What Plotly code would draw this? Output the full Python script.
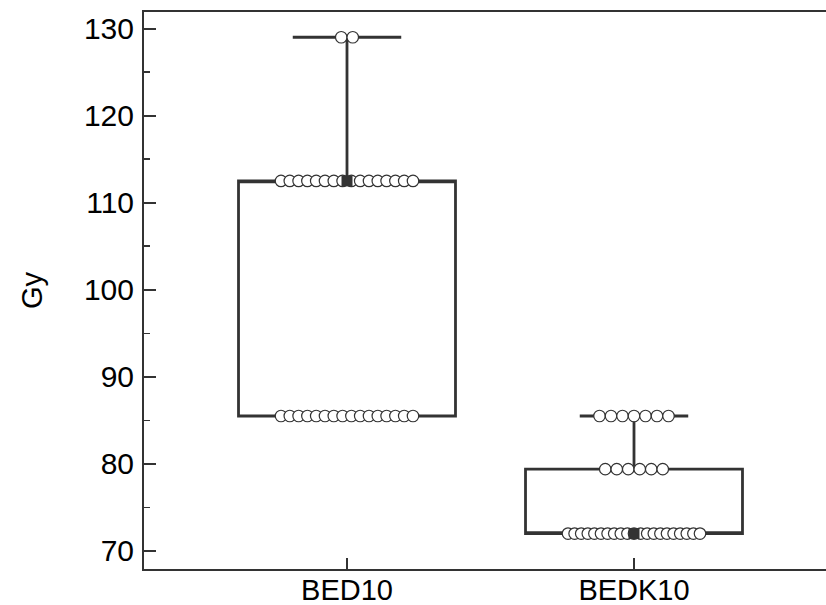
import plotly.graph_objects as go
from collections import Counter

# ---- data ----
categories = ["BED10", "BEDK10"]
bed10 = [129, 129,
         112.5, 112.5, 112.5, 112.5, 112.5, 112.5, 112.5, 112.5,
         112.5, 112.5, 112.5, 112.5, 112.5, 112.5, 112.5, 112.5,
         85.5, 85.5, 85.5, 85.5, 85.5, 85.5, 85.5, 85.5,
         85.5, 85.5, 85.5, 85.5, 85.5, 85.5, 85.5, 85.5]
bedk10 = [85.5, 85.5, 85.5, 85.5, 85.5, 85.5, 85.5,
          79.4, 79.4, 79.4, 79.4, 79.4, 79.4,
          72, 72, 72, 72, 72, 72, 72, 72, 72, 72, 72,
          72, 72, 72, 72, 72, 72, 72, 72, 72, 72]
# box statistics (q1, median, q3, lower whisker, upper whisker)
q1 = [85.5, 72]
median = [112.5, 72]
q3 = [112.5, 79.4]
lowerfence = [85.5, 72]
upperfence = [129, 85.5]
y_ticks = [70, 80, 90, 100, 110, 120, 130]

series = [bed10, bedk10]

LINE = "#333333"
FONT = "Arial, Liberation Sans, sans-serif"
PX_PER_UNIT = 287.0
DOT = 11.5
STEP = 11.5 / PX_PER_UNIT
MAXSPAN = 132 / PX_PER_UNIT


def swarm(values, center):
    xs, ys = [], []
    counts = Counter(values)
    for v, n in counts.items():
        step = STEP if n < 2 else min(STEP, MAXSPAN / (n - 1))
        for i in range(n):
            xs.append(center + (i - (n - 1) / 2) * step)
            ys.append(v)
    return xs, ys


fig = go.Figure()

for i, cat in enumerate(categories):
    fig.add_trace(go.Box(
        x=[i], q1=[q1[i]], median=[median[i]], q3=[q3[i]],
        lowerfence=[lowerfence[i]], upperfence=[upperfence[i]],
        width=0.756, whiskerwidth=0.5,
        fillcolor="rgba(0,0,0,0)",
        line=dict(color=LINE, width=2.8),
        boxpoints=False, hoverinfo="skip", showlegend=False,
    ))

for i, vals in enumerate(series):
    xs, ys = swarm(vals, i)
    fig.add_trace(go.Scatter(
        x=xs, y=ys, mode="markers",
        marker=dict(symbol="circle", size=DOT, color="white",
                    line=dict(color=LINE, width=1.2)),
        showlegend=False, hoverinfo="skip",
    ))

fig.add_trace(go.Scatter(
    x=list(range(len(categories))), y=median, mode="markers",
    marker=dict(symbol="square", size=11, color=LINE,
                line=dict(color=LINE, width=0)),
    showlegend=False, hoverinfo="skip",
))

fig.update_layout(
    width=826, height=605,
    margin=dict(l=144, r=0, t=12, b=36),
    paper_bgcolor="white", plot_bgcolor="white",
    font=dict(family=FONT, size=31, color="black"),
    showlegend=False,
)

fig.update_xaxes(
    range=[-203 / PX_PER_UNIT, 1 + 192 / PX_PER_UNIT],
    tickvals=list(range(len(categories))), ticktext=categories,
    ticks="inside", ticklen=11, tickwidth=2, tickcolor=LINE,
    showline=True, linewidth=2, linecolor=LINE, mirror=True,
    showgrid=False, zeroline=False, automargin=False,
    ticklabelstandoff=-6,
    tickfont=dict(size=29, family=FONT, color="black"),
)
fig.update_yaxes(
    range=[67.93, 131.9],
    tickvals=y_ticks,
    ticks="inside", ticklen=12, tickwidth=2, tickcolor=LINE,
    minor=dict(dtick=5, tick0=0, ticks="inside", ticklen=6, tickwidth=1.5, tickcolor=LINE),
    showline=True, linewidth=2, linecolor=LINE, mirror=False,
    showgrid=False, zeroline=False, automargin=False,
    ticklabelstandoff=2,
    tickfont=dict(size=30, family=FONT, color="black"),
    title=dict(text="Gy", font=dict(size=29, family=FONT, color="black"), standoff=33),
)

fig.write_html(
    "out.html",
    config={"displayModeBar": False, "staticPlot": True},
    post_script="document.body.style.margin='0';document.body.style.overflow='hidden';",
)
